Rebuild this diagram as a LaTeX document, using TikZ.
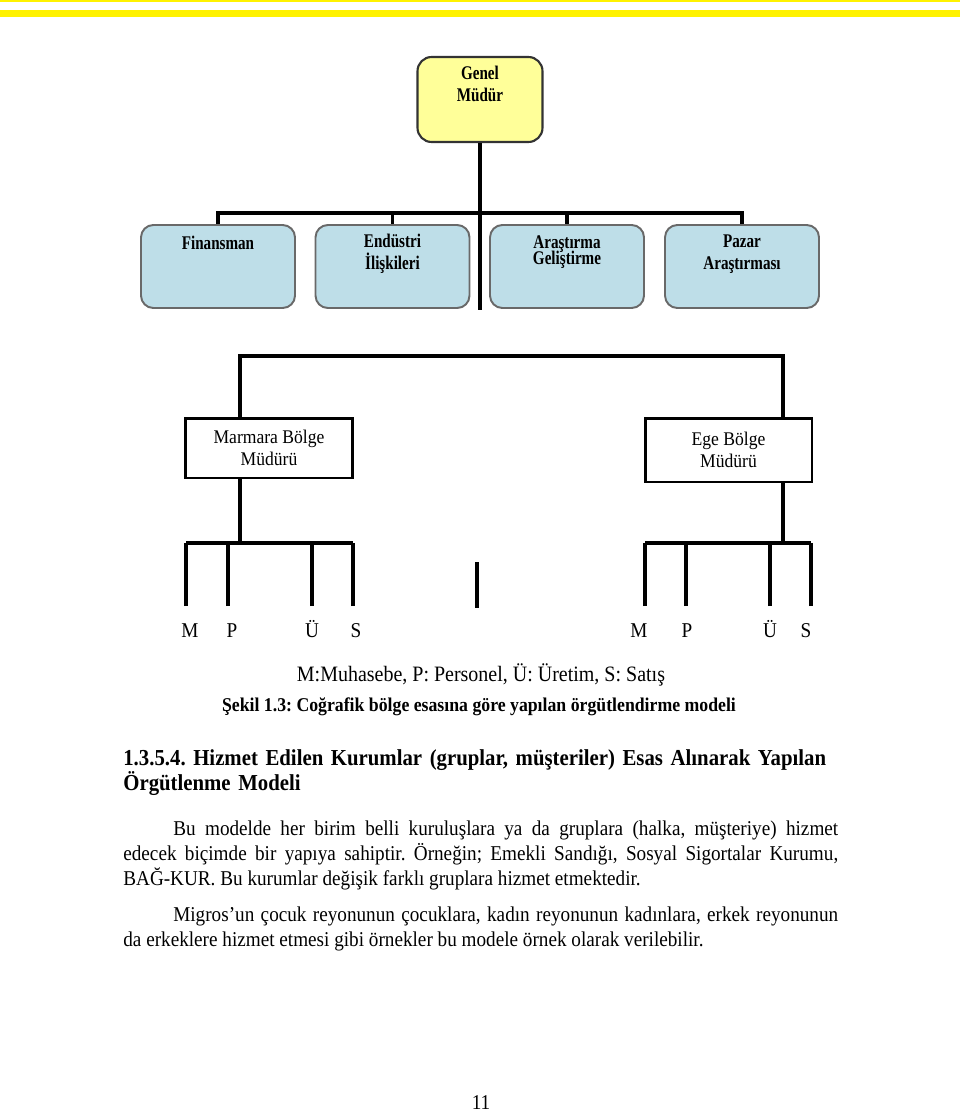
\documentclass[tikz,border=0pt]{standalone}
\usepackage{fontspec}
\setmainfont{Liberation Serif}[FakeStretch=0.91]
\usetikzlibrary{positioning}
\definecolor{bandyellow}{RGB}{255,242,0}
\definecolor{chiefyellow}{RGB}{255,255,153}
\definecolor{deptblue}{RGB}{190,222,232}
\definecolor{deptborder}{RGB}{105,105,105}
\newcommand{\narrowtxt}[1]{\scalebox{0.86}[1]{#1}}
\hyphenpenalty=10000
\frenchspacing

\begin{document}
\begin{tikzpicture}[x=0.02cm,y=-0.02cm,
    chief/.style={draw=black!80, line width=1.2pt, fill=chiefyellow, rounded corners=8pt, minimum width=2.5cm, minimum height=1.7cm},
    dept/.style={draw=deptborder, line width=1.1pt, fill=deptblue, rounded corners=7pt, minimum width=3.08cm, minimum height=1.66cm},
    boxtext/.style={font=\fontsize{11}{12.5}\selectfont\bfseries, align=center, inner sep=0pt},
    region/.style={draw, line width=1.7pt, minimum width=3.36cm, minimum height=1.2cm, align=center, font=\fontsize{11}{12.5}\selectfont},
    link/.style={line width=2.2pt},
    unit/.style={font=\fontsize{12}{14}\selectfont, anchor=base},
    bodytext/.style={font=\fontsize{12}{14.4}\selectfont, inner sep=0pt}]
  \useasboundingbox (0,0) rectangle (960,1112);
  % yellow bands at the top
  \fill[bandyellow] (0,0) rectangle (960,2);
  \fill[bandyellow] (0,10) rectangle (960,17);

  % head office
  \node[chief] (genel) at (480,99.5) {};
  \node[boxtext, below=0.2cm of genel.north] {\narrowtxt{Genel}\\\narrowtxt{Müdür}};

  \node[dept] (fin) at (218,266.5) {};
  \node[dept] (endu) at (392.5,266.5) {};
  \node[dept] (arge) at (567,266.5) {};
  \node[dept] (pazar) at (742,266.5) {};
  \node[boxtext, below=0.24cm of fin.north] {\narrowtxt{Finansman}};
  \node[boxtext, below=0.2cm of endu.north] {\narrowtxt{Endüstri}\\\narrowtxt{İlişkileri}};
  \node[boxtext, below=0.22cm of arge.north] {\narrowtxt{Araştırma}\\[-3pt]\narrowtxt{Geliştirme}};
  \node[boxtext, below=0.2cm of pazar.north] {\narrowtxt{Pazar}\\\narrowtxt{Araştırması}};

  \coordinate (hub) at (480,213);
  \coordinate (spine) at (480,310);
  \draw[link] (genel) -- (hub) -- (spine);
  \foreach \d in {fin,endu,arge,pazar}
    \draw[link] (\d.north) |- (hub);

  % regional managers
  \node[region] (marmara) at (269,448) {Marmara Bölge\\Müdürü};
  \node[region, minimum width=3.34cm, minimum height=1.28cm] (ege) at (728.5,450) {Ege Bölge\\Müdürü};
  \coordinate (ltop) at (240,356);
  \coordinate (rtop) at (783,356);
  \draw[link] (marmara.north -| ltop) -- (ltop) -- (rtop) -- (ege.north -| rtop);

  \coordinate (lhub) at (240,543);
  \coordinate (rhub) at (783,543);
  \draw[link] (marmara.south -| lhub) -- (lhub);
  \draw[link] (ege.south -| rhub) -- (rhub);
  \foreach \n/\lx/\tx/\t in {lm/186/190/M, lp/228/232/P, lu/312/312/Ü, ls/353/356/S,
                             rm/645/639/M, rp/686/687/P, ru/770/770/Ü, rs/811/806/S} {
    \node[unit] (\n) at (\tx,637) {\t};
    \coordinate (\n-top) at (\lx,606);
    \draw[link] (\n-top) -- (\n-top |- lhub);
  }
  \draw[link] (lm-top |- lhub) -- (ls-top |- lhub);
  \draw[link] (rm-top |- rhub) -- (rs-top |- rhub);

  \coordinate (stubtop) at (477,562);
  \coordinate (stubbot) at (477,608);
  \draw[link] (stubtop) -- (stubbot);

  % legend and caption
  \node[bodytext, anchor=base, font=\fontsize{12.5}{14.4}\selectfont] (legend) at (481,681) {M:Muhasebe, P: Personel, Ü: Üretim, S: Satış};
  \node[bodytext, anchor=base, font=\fontsize{11.1}{14.4}\selectfont\bfseries] (caption) at (479,711) {Şekil 1.3: Coğrafik bölge esasına göre yapılan örgütlendirme modeli};

  % section text
  \node[bodytext, anchor=base west, text width=14.5cm, align=left, font=\fontsize{13}{14.4}\selectfont\bfseries] (heading) at (123,765)
    {1.3.5.4. Hizmet Edilen Kurumlar (gruplar, müşteriler) Esas Alınarak Yapılan\\Örgütlenme Modeli};
  \node[bodytext, anchor=base west, text width=14.3cm, align=justify] (para1) at (123,835)
    {\hspace*{1cm}Bu modelde her birim belli kuruluşlara ya da gruplara (halka, müşteriye) hizmet\linebreak
     edecek biçimde bir yapıya sahiptir. Örneğin; Emekli Sandığı, Sosyal Sigortalar Kurumu,\linebreak
     BAĞ-KUR. Bu kurumlar değişik farklı gruplara hizmet etmektedir.};
  \node[bodytext, anchor=base west, text width=14.3cm, align=justify] (para2) at (123,921)
    {\hspace*{1cm}Migros’un çocuk reyonunun çocuklara, kadın reyonunun kadınlara, erkek reyonunun\linebreak
     da erkeklere hizmet etmesi gibi örnekler bu modele örnek olarak verilebilir.};

  \node[bodytext, anchor=base] (pageno) at (481,1109) {11};
\end{tikzpicture}
\end{document}
